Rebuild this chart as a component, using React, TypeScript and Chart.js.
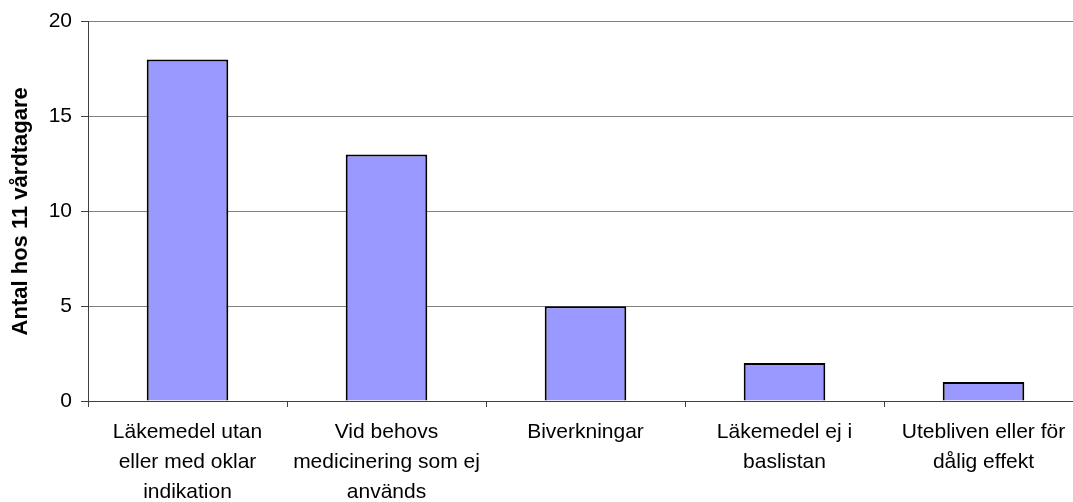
import React, { useEffect, useRef } from "react";
import { Chart, registerables } from "chart.js";

Chart.register(...registerables);

const categories: string[][] = [
  ["Läkemedel utan", "eller med oklar", "indikation"],
  ["Vid behovs", "medicinering som ej", "används"],
  ["Biverkningar"],
  ["Läkemedel ej i", "baslistan"],
  ["Utebliven eller för", "dålig effekt"],
];
const values: number[] = [18, 13, 5, 2, 1];
const yTitle = "Antal hos 11 vårdtagare";
const yMin = 0;
const yMax = 20;
const yStep = 5;

const FONT = "'Liberation Sans', Arial, sans-serif";

export default function App() {
  const ref = useRef<HTMLCanvasElement | null>(null);
  useEffect(() => {
    if (!ref.current) return;
    const chart = new Chart(ref.current, {
      type: "bar",
      data: {
        labels: categories,
        datasets: [
          {
            data: values,
            backgroundColor: "#9999FF",
            borderColor: "#000000",
            borderWidth: 2,
            barPercentage: 0.41,
            categoryPercentage: 1,
          },
        ],
      },
      options: {
        animation: false,
        responsive: true,
        maintainAspectRatio: false,
        layout: { padding: { top: 20, right: 7, bottom: 0, left: 0 } },
        plugins: {
          legend: { display: false },
          tooltip: { enabled: false },
        },
        scales: {
          x: {
            afterFit: (s: any) => {
              s.height = 101;
            },
            border: { display: true, color: "#404040", width: 1 },
            grid: {
              display: true,
              drawOnChartArea: false,
              drawTicks: true,
              tickLength: 6,
              tickColor: "#404040",
              offset: true,
            },
            ticks: {
              color: "#000000",
              padding: 10,
              maxRotation: 0,
              autoSkip: false,
              font: { family: FONT, size: 21, lineHeight: 30 / 21 },
            },
          },
          y: {
            min: yMin,
            max: yMax,
            afterFit: (s: any) => {
              s.width = 88;
            },
            border: { display: true, color: "#404040", width: 1 },
            grid: {
              color: "#808080",
              lineWidth: 1,
              drawTicks: true,
              tickLength: 7,
              tickColor: "#404040",
            },
            ticks: {
              stepSize: yStep,
              color: "#000000",
              padding: 9,
              font: { family: FONT, size: 21 },
            },
            title: {
              display: true,
              text: yTitle,
              color: "#000000",
              padding: { top: 8, bottom: 0 },
              font: { family: FONT, size: 22, weight: "bold" },
            },
          },
        },
      },
    });
    return () => chart.destroy();
  }, []);
  return (
    <div
      style={{
        position: "absolute",
        left: 0,
        top: 0,
        width: 1073,
        height: 502,
        overflow: "hidden",
        background: "#fff",
      }}
    >
      <div style={{ position: "relative", width: 1090, height: 502 }}>
        <canvas ref={ref} />
      </div>
    </div>
  );
}
